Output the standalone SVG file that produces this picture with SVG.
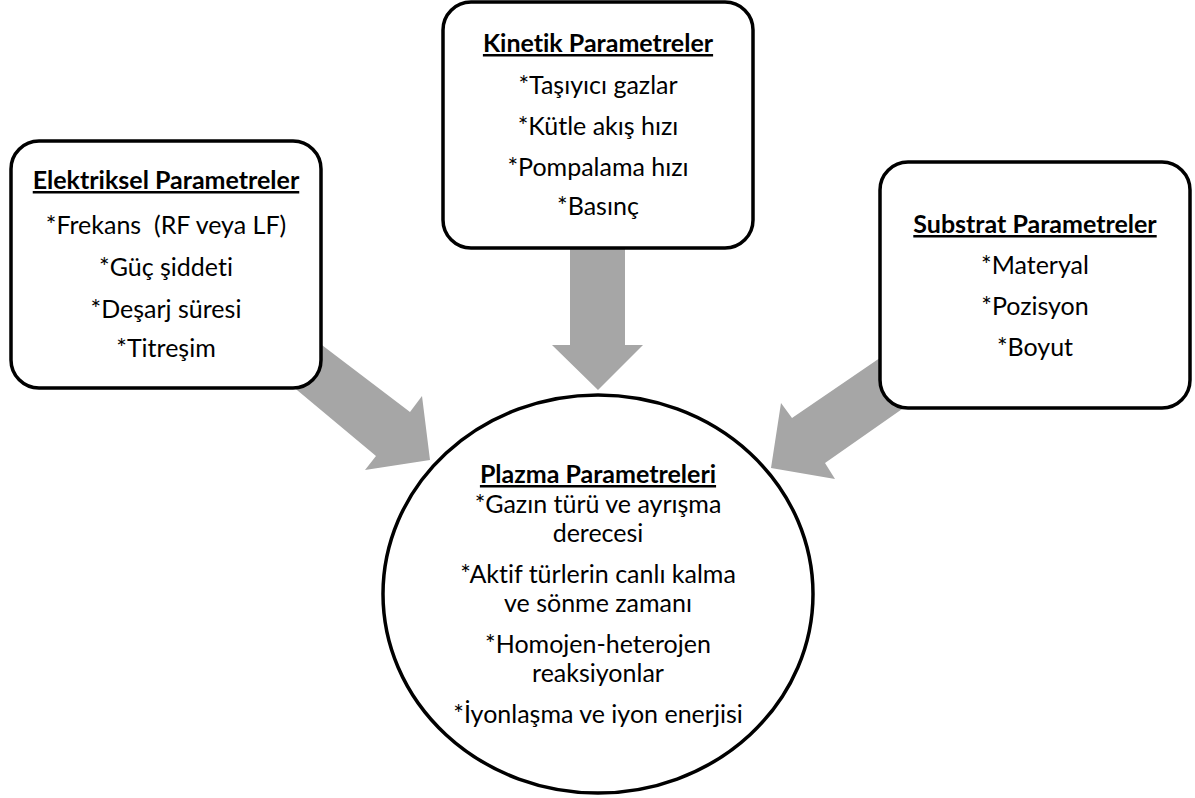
<svg xmlns="http://www.w3.org/2000/svg" width="1195" height="798" viewBox="0 0 1195 798">
<style>
.box{fill:#fff;stroke:#000;stroke-width:3.5}
.arr{fill:#a6a6a6;stroke:none}
text{font-family:Lato,"Open Sans","Liberation Sans",sans-serif;font-size:25px;fill:#000;text-anchor:middle;font-variant-ligatures:none;white-space:pre}
.t{font-weight:bold;text-decoration:underline}
</style>
<rect width="1195" height="798" fill="#fff"/>
<g id="connectors">
<polygon class="arr" points="285,317 410,412 422,396 430,460 365,470 376,456 285,380"/>
<polygon class="arr" points="570,240 625,240 625,345 643,345 598,390 552,345 570,345"/>
<polygon class="arr" points="915,334 792,418 781,403 771,468 835,479 825,463 915,400"/>
</g>
<g id="elektriksel">
<rect class="box" x="11" y="141" width="310" height="247" rx="28"/>
<text class="t" x="166" y="189">Elektriksel Parametreler</text>
<text x="166" y="234" xml:space="preserve">*Frekans  (RF veya LF)</text>
<text x="166" y="276">*Güç şiddeti</text>
<text x="166" y="318">*Deşarj süresi</text>
<text x="166" y="357">*Titreşim</text>
</g>
<g id="kinetik">
<rect class="box" x="443" y="2" width="310" height="246" rx="28"/>
<text class="t" x="598" y="52">Kinetik Parametreler</text>
<text x="598" y="94">*Taşıyıcı gazlar</text>
<text x="598" y="135">*Kütle akış hızı</text>
<text x="598" y="176">*Pompalama hızı</text>
<text x="598" y="215">*Basınç</text>
</g>
<g id="substrat">
<rect class="box" x="880" y="162" width="310" height="246" rx="28"/>
<text class="t" x="1035" y="233">Substrat Parametreler</text>
<text x="1035" y="274">*Materyal</text>
<text x="1035" y="315">*Pozisyon</text>
<text x="1035" y="356">*Boyut</text>
</g>
<g id="plazma">
<ellipse class="box" cx="598" cy="594" rx="215" ry="199"/>
<text class="t" x="598" y="483">Plazma Parametreleri</text>
<text x="598" y="513">*Gazın türü ve ayrışma</text>
<text x="598" y="542">derecesi</text>
<text x="598" y="583">*Aktif türlerin canlı kalma</text>
<text x="598" y="612">ve sönme zamanı</text>
<text x="598" y="653">*Homojen-heterojen</text>
<text x="598" y="682">reaksiyonlar</text>
<text x="598" y="723">*İyonlaşma ve iyon enerjisi</text>
</g>
</svg>
